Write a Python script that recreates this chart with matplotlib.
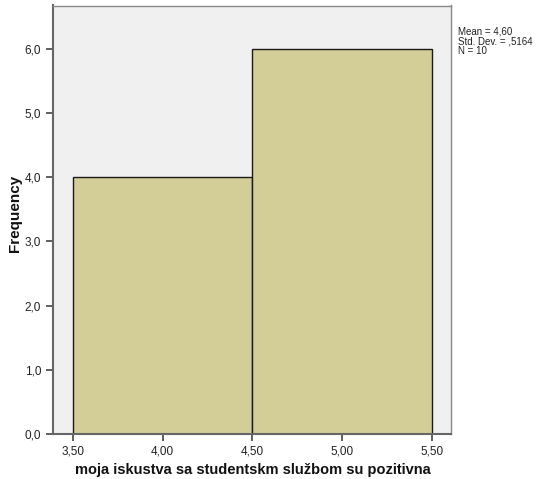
import matplotlib
matplotlib.use("Agg")
import matplotlib.pyplot as plt
import numpy as np

plt.rcParams['font.family'] = ['Liberation Sans', 'DejaVu Sans']

bin_edges = [3.5, 4.5, 5.5]
frequencies = [4, 6]
x_ticks = [3.5, 4.0, 4.5, 5.0, 5.5]
y_ticks = [0, 1, 2, 3, 4, 5, 6]
stats_text = "Mean = 4,60\nStd. Dev. = ,5164\nN = 10"
xlabel = "moja iskustva sa studentskm službom su pozitivna"
ylabel = "Frequency"

fig = plt.figure(figsize=(5.4, 4.79), dpi=100)
ax = fig.add_axes([53/540, 45/479, (451-53)/540, (434-5.5)/479])
ax.set_facecolor('#f0f0f0')

widths = np.diff(bin_edges)
ax.bar(bin_edges[:-1], frequencies, width=widths, align='edge',
       color='#d3ce97', edgecolor='#1a1a1a', linewidth=1.0)

ax.set_xlim(3.389, 5.606)
ax.set_ylim(0, 6.67)
ax.set_xticks(x_ticks)
ax.set_xticklabels([f"{v:.2f}".replace('.', ',') for v in x_ticks], fontsize=8.5)
ax.set_yticks(y_ticks)
ax.set_yticklabels([f"{v:.1f}".replace('.', ',') for v in y_ticks], fontsize=8.5)
ax.tick_params(axis='both', direction='out', length=5, width=1.2, color='#444444', labelcolor='#222222')
ax.tick_params(axis='x', pad=3)

for s in ['top', 'right']:
    ax.spines[s].set_color('#888888')
    ax.spines[s].set_linewidth(1.0)
for s in ['left', 'bottom']:
    ax.spines[s].set_color('#666666')
    ax.spines[s].set_linewidth(1.5)

fig.text(253/540, 1 - 470/479, xlabel, fontsize=10.5, fontweight='bold',
         ha='center', va='center', color='#111111')
fig.text(15/540, 1 - 213/479, ylabel, fontsize=11, fontweight='bold',
         ha='center', va='center', rotation=90, color='#111111')

fig.text(458/540, 1 - 26/479, stats_text, fontsize=7, va='top', ha='left',
         color='#222222', linespacing=1.0)

fig.savefig('out.png', dpi=100)
